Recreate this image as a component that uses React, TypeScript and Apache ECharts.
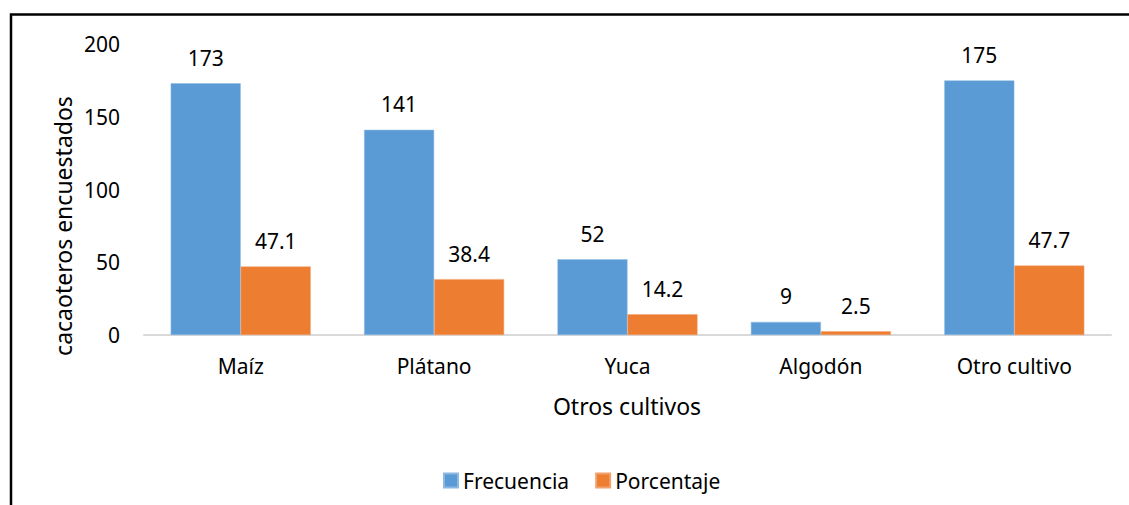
import React, { useEffect, useRef } from "react";
import * as echarts from "echarts";

const categories = ["Maíz", "Plátano", "Yuca", "Algodón", "Otro cultivo"];
const frecuencia = [173, 141, 52, 9, 175];
const porcentaje = [47.1, 38.4, 14.2, 2.5, 47.7];
const seriesNames = ["Frecuencia", "Porcentaje"];
const yTitle = "cacaoteros encuestados";
const xTitle = "Otros cultivos";

const FONT = "'Noto Sans', sans-serif";
const FS = 21;
const TFS = 23;

export default function App() {
  const ref = useRef<HTMLDivElement>(null);
  useEffect(() => {
    document.body.style.margin = "0";
    const chart = echarts.init(ref.current!, null, { renderer: "svg" });
    const label = {
      show: true,
      position: "top",
      distance: 15,
      color: "#000",
      fontFamily: FONT,
      fontSize: FS,
    };
    chart.setOption({
      animation: false,
      backgroundColor: "#fff",
      textStyle: { fontFamily: FONT },
      grid: { left: 144, right: 18, top: 44, bottom: 170, containLabel: false },
      legend: {
        left: 443,
        top: 470,
        padding: 0,
        itemWidth: 14,
        itemHeight: 14,
        itemGap: 26,
        icon: "rect",
        textStyle: { fontFamily: FONT, fontSize: FS, color: "#000" },
        data: seriesNames,
      },
      xAxis: {
        type: "category",
        data: categories,
        axisLine: { lineStyle: { color: "#d9d9d9", width: 2 } },
        axisTick: { show: false },
        axisLabel: { color: "#000", fontFamily: FONT, fontSize: FS, margin: 20 },
      },
      yAxis: {
        type: "value",
        min: 0,
        max: 200,
        interval: 50,
        axisLine: { show: false },
        axisTick: { show: false },
        splitLine: { show: false },
        axisLabel: { color: "#000", fontFamily: FONT, fontSize: FS, margin: 24 },
      },
      graphic: [
        {
          type: "text",
          x: 63,
          y: 226,
          rotation: Math.PI / 2,
          style: {
            text: yTitle,
            fill: "#000",
            font: `${TFS}px 'Noto Sans', sans-serif`,
            textAlign: "center",
            textVerticalAlign: "middle",
          },
        },
        {
          type: "text",
          x: 627,
          y: 406,
          style: {
            text: xTitle,
            fill: "#000",
            font: `${TFS}px 'Noto Sans', sans-serif`,
            textAlign: "center",
            textVerticalAlign: "middle",
          },
        },
        {
          type: "polyline",
          shape: { points: [[11, 505], [11, 14.5], [1129, 14.5]] },
          style: { stroke: "#000", lineWidth: 2.5, fill: null },
        },
      ],
      series: [
        {
          name: seriesNames[0],
          type: "bar",
          data: frecuencia,
          barGap: "0%",
          barCategoryGap: "27.6%",
          itemStyle: { color: "#5B9BD5", borderColor: "#8db8e3", borderWidth: 0.5 },
          label,
        },
        {
          name: seriesNames[1],
          type: "bar",
          data: porcentaje,
          itemStyle: { color: "#ED7D31", borderColor: "#f2a06c", borderWidth: 0.5 },
          label,
        },
      ],
    });
    return () => chart.dispose();
  }, []);
  return <div ref={ref} style={{ position: "absolute", left: 0, top: 0, width: 1129, height: 505 }} />;
}
